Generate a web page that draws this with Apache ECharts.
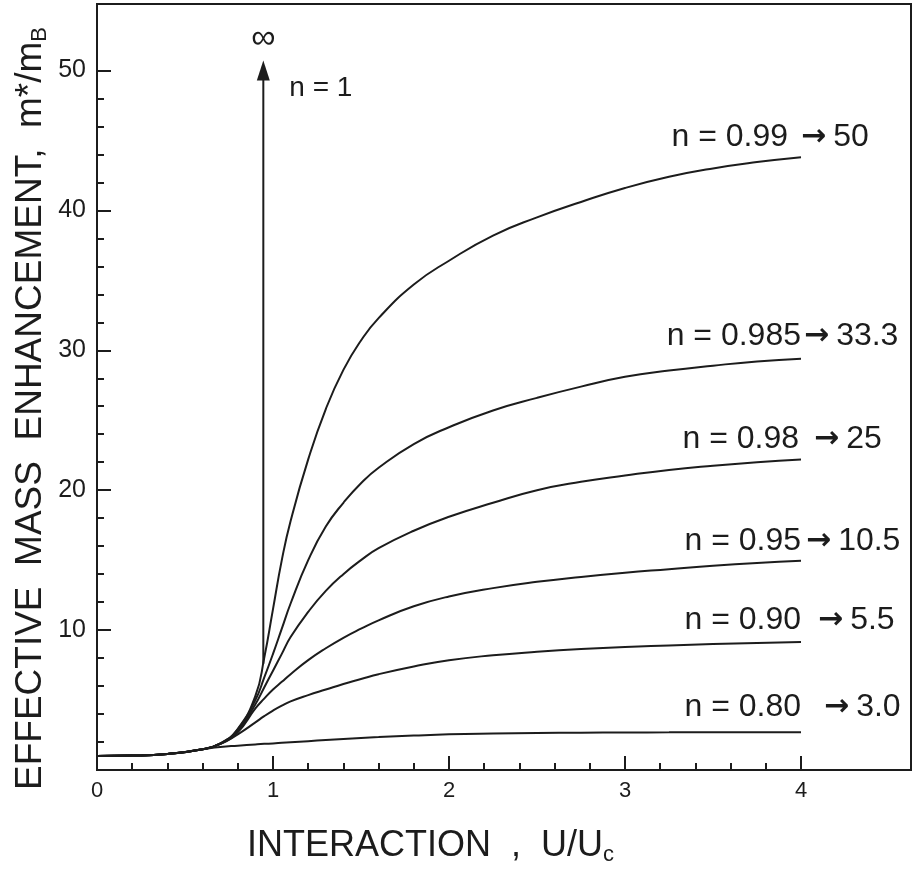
<!DOCTYPE html>
<html><head><meta charset="utf-8">
<script src="https://cdn.jsdelivr.net/npm/echarts@6/dist/echarts.min.js"></script>
<style>html,body{margin:0;padding:0;background:#fff}#c,#m{width:914px;height:876px}#m{position:absolute;left:-2000px;top:0}</style>
</head><body><div id="c"></div><div id="m"></div>
<script>
// ---- data ----
const uGrid = [0, 0.2, 0.4, 0.6, 0.7, 0.8, 0.9, 0.95, 1.0, 1.05, 1.1, 1.2, 1.3, 1.4, 1.5, 1.6, 1.8, 2.0, 2.25, 2.5, 2.75, 3.0, 3.25, 3.5, 3.75, 4.0];
const m099  = [1.0, 1.03, 1.15, 1.48, 1.9, 2.95, 5.3, 8.0, 11.5, 15.0, 17.8, 22.2, 25.8, 28.6, 30.7, 32.3, 34.7, 36.4, 38.2, 39.5, 40.6, 41.6, 42.4, 43.0, 43.45, 43.8];
const m0985 = [1.0, 1.03, 1.15, 1.48, 1.88, 2.9, 5.0, 6.6, 8.3, 10.1, 11.9, 15.0, 17.4, 19.1, 20.5, 21.6, 23.3, 24.5, 25.7, 26.6, 27.4, 28.1, 28.55, 28.9, 29.2, 29.4];
const m098  = [1.0, 1.03, 1.15, 1.48, 1.88, 2.8, 4.7, 5.9, 7.1, 8.3, 9.5, 11.3, 12.8, 14.0, 15.0, 15.85, 17.1, 18.1, 19.1, 20.0, 20.6, 21.05, 21.45, 21.75, 22.0, 22.2];
const m095  = [1.0, 1.03, 1.15, 1.48, 1.87, 2.7, 4.4, 5.1, 5.75, 6.3, 6.85, 7.85, 8.7, 9.45, 10.1, 10.7, 11.7, 12.4, 13.0, 13.45, 13.8, 14.1, 14.35, 14.6, 14.8, 14.95];
const m090  = [1.0, 1.03, 1.15, 1.48, 1.85, 2.55, 3.4, 3.85, 4.25, 4.6, 4.9, 5.35, 5.75, 6.15, 6.5, 6.85, 7.4, 7.85, 8.2, 8.45, 8.65, 8.8, 8.9, 9.0, 9.08, 9.15];
const m080  = [1.0, 1.03, 1.15, 1.48, 1.64, 1.74, 1.83, 1.87, 1.90, 1.94, 1.98, 2.06, 2.14, 2.22, 2.29, 2.35, 2.46, 2.55, 2.61, 2.65, 2.67, 2.68, 2.69, 2.70, 2.70, 2.70];
const n1U = [0.945, 0.945];
const n1M = [7.6, 50.0];
const nValues = ['0.99', '0.985', '0.98', '0.95', '0.90', '0.80'];
const limits  = ['50', '33.3', '25', '10.5', '5.5', '3.0'];
const xMajor = [0, 1, 2, 3, 4];
const xMinor = [0.2,0.4,0.6,0.8,1.2,1.4,1.6,1.8,2.2,2.4,2.6,2.8,3.2,3.4,3.6,3.8];
const yMajorTicks = [0, 10, 20, 30, 40, 50];
const yMajorLabels = [10, 20, 30, 40, 50];
const yMinor = [2,4,6,8,12,14,16,18,22,24,26,28,32,34,36,38,42,44,46,48];

// ---- styles ----
const INK = '#1c1c1c';
const FONT = 'Liberation Sans';
const curves = [m099, m0985, m098, m095, m090, m080];
const labelPos = [
  {mainDx: -13, arrDx: 0,  dy: -20},
  {mainDx: 0,   arrDx: 3,  dy: -22},
  {mainDx: -2,  arrDx: 13, dy: -20},
  {mainDx: 0,   arrDx: 5,  dy: -20},
  {mainDx: 0,   arrDx: 17, dy: -22},
  {mainDx: 0,   arrDx: 23, dy: -25}
];

const XMAX = 4.625, YMAX = 54.75;
const pair = (xs, ys) => xs.map((x, i) => [x, ys[i]]);

const series = curves.map((ys, i) => ({
  type: 'line', name: 'n=' + nValues[i],
  data: pair(uGrid, ys), smooth: 0.5,
  symbol: 'none', showSymbol: false, animation: false,
  lineStyle: {color: INK, width: 2}
}));
const n1Data = pair(n1U, n1M).map((p, i) => i === n1U.length - 1
  ? {value: p, symbol: 'triangle', symbolSize: [13, 20], itemStyle: {color: INK}}
  : {value: p, symbol: 'none'});
series.push({
  type: 'line', name: 'n=1', data: n1Data,
  showSymbol: true, symbol: 'none', animation: false,
  lineStyle: {color: INK, width: 2}
});

const axisBase = (max) => ({type: 'value', min: 0, max: max, splitLine: {show: false}, axisLabel: {show: false}});

const option = {
  backgroundColor: '#ffffff',
  animation: false,
  grid: {left: 97, right: 3, top: 4, bottom: 106, show: true, borderColor: INK, borderWidth: 2},
  xAxis: [
    Object.assign(axisBase(XMAX), {position: 'bottom',
      axisLine: {show: true, onZero: false, lineStyle: {color: INK, width: 2}},
      axisTick: {show: true, inside: true, length: 14, customValues: xMajor, lineStyle: {color: INK, width: 2}}}),
    Object.assign(axisBase(XMAX), {position: 'bottom',
      axisLine: {show: false, onZero: false},
      axisTick: {show: true, inside: true, length: 7, customValues: xMinor, lineStyle: {color: INK, width: 2}}})
  ],
  yAxis: [
    Object.assign(axisBase(YMAX), {position: 'left',
      axisLine: {show: true, onZero: false, lineStyle: {color: INK, width: 2}},
      axisTick: {show: true, inside: true, length: 14, customValues: yMajorTicks, lineStyle: {color: INK, width: 2}}}),
    Object.assign(axisBase(YMAX), {position: 'left',
      axisLine: {show: false, onZero: false},
      axisTick: {show: true, inside: true, length: 7, customValues: yMinor, lineStyle: {color: INK, width: 2}}})
  ],
  series: series
};

// measure data->pixel mapping on an offscreen chart of the same size
const meas = echarts.init(document.getElementById('m'), null, {renderer: 'canvas'});
meas.setOption(option);
const toPx = (pt) => meas.convertToPixel({xAxisIndex: 0, yAxisIndex: 0}, pt);

const gfx = [];
// tick labels, placed at the axis scale positions of the tick values
xMajor.forEach(v => {
  const p = toPx([v, 0]);
  gfx.push({type: 'text', x: p[0], y: p[1] + 10, z: 10,
    style: {text: String(v), fontSize: 22, fontFamily: FONT, fill: INK, align: 'center', verticalAlign: 'top'}});
});
yMajorLabels.forEach(v => {
  const p = toPx([0, v]);
  gfx.push({type: 'text', x: p[0] - 11, y: p[1], z: 10,
    style: {text: String(v), fontSize: 25, fontFamily: FONT, fill: INK, align: 'right', verticalAlign: 'middle'}});
});

// curve annotations anchored to the curve ends
curves.forEach((ys, i) => {
  const end = toPx([uGrid[uGrid.length - 1], ys[ys.length - 1]]);
  const L = labelPos[i];
  gfx.push({type: 'text', x: end[0] + L.mainDx, y: end[1] + L.dy, z: 10,
    style: {text: 'n = ' + nValues[i], fontSize: 32, fontFamily: FONT, fill: INK, align: 'right', verticalAlign: 'middle'}});
  gfx.push({type: 'text', x: end[0] + L.arrDx, y: end[1] + L.dy, z: 10,
    style: {text: '{a|→}{b|' + limits[i] + '}', align: 'left', verticalAlign: 'middle', fill: INK,
      rich: {a: {fontSize: 30, fontFamily: 'DejaVu Sans', fill: INK, verticalAlign: 'middle', fontWeight: 'bold'},
             b: {fontSize: 32, fontFamily: FONT, fill: INK, verticalAlign: 'middle', padding: [0, 0, 0, 7]}}}});
});
const tip = toPx([n1U[n1U.length - 1], n1M[n1M.length - 1]]);
gfx.push({type: 'text', x: tip[0], y: tip[1] - 32, z: 10,
  style: {text: '∞', fontSize: 34, fontFamily: FONT, fill: INK, align: 'center', verticalAlign: 'middle'}});
gfx.push({type: 'text', x: tip[0] + 26, y: tip[1] + 18, z: 10,
  style: {text: 'n = 1', fontSize: 28, fontFamily: FONT, fill: INK, align: 'left', verticalAlign: 'middle'}});
meas.dispose();

// axis titles
gfx.push({type: 'text', x: 31, y: 790, rotation: Math.PI / 2, z: 10,
  style: {text: '{t|EFFECTIVE  MASS  ENHANCEMENT,  m*/m}{s|B}', align: 'left', verticalAlign: 'middle',
    rich: {t: {fontSize: 37, fontFamily: FONT, fill: INK, lineHeight: 40, verticalAlign: 'middle'},
           s: {fontSize: 22, fontFamily: FONT, fill: INK, lineHeight: 22, verticalAlign: 'bottom'}}}});
gfx.push({type: 'text', x: 247, y: 846, z: 10,
  style: {text: '{t|INTERACTION  ,  U/U}{s|c}', align: 'left', verticalAlign: 'middle',
    rich: {t: {fontSize: 36, fontFamily: FONT, fill: INK, lineHeight: 40, verticalAlign: 'middle'},
           s: {fontSize: 22, fontFamily: FONT, fill: INK, lineHeight: 22, verticalAlign: 'bottom'}}}});
option.graphic = gfx;

const chart = echarts.init(document.getElementById('c'), null, {renderer: 'canvas'});
chart.setOption(option);
</script></body></html>
